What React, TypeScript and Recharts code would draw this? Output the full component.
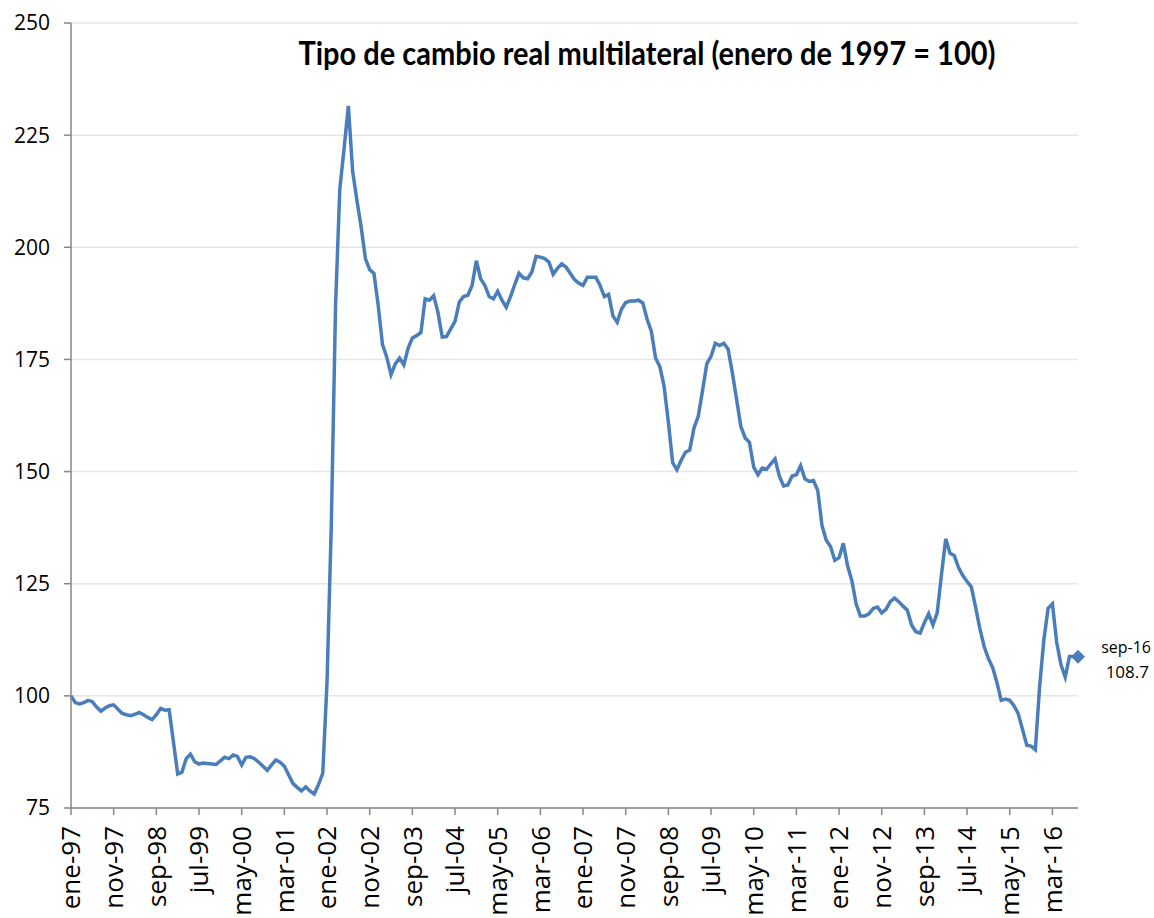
import { LineChart, Line, XAxis, YAxis, CartesianGrid } from "recharts";

// Tipo de cambio real multilateral, mensual, ene-97 .. sep-16 (enero 1997 = 100)
const months = ["ene", "feb", "mar", "abr", "may", "jun", "jul", "ago", "sep", "oct", "nov", "dic"];
const years = ["97", "98", "99", "00", "01", "02", "03", "04", "05", "06", "07", "08", "09", "10", "11", "12", "13", "14", "15", "16"];

const v1997 = [100, 98.5, 98.2, 98.5, 99, 98.7, 97.5, 96.6, 97.3, 97.8, 98, 97];
const v1998 = [96.1, 95.8, 95.6, 95.9, 96.3, 95.8, 95.2, 94.7, 95.8, 97.2, 96.8, 96.9];
const v1999 = [89.8, 82.6, 83, 86, 87, 85.3, 84.8, 85, 84.9, 84.8, 84.7, 85.5];
const v2000 = [86.3, 86, 86.8, 86.5, 84.6, 86.3, 86.4, 86, 85.2, 84.3, 83.4, 84.6];
const v2001 = [85.7, 85.2, 84.3, 82.4, 80.5, 79.6, 78.8, 79.7, 78.8, 78.1, 80.2, 82.7];
const v2002 = [103, 138, 187, 213, 222, 231.5, 217, 210.5, 204.5, 197.5, 195, 194.2];
const v2003 = [187, 178.3, 175.5, 171.6, 174, 175.3, 173.8, 177.5, 179.8, 180.3, 181, 188.5];
const v2004 = [188.2, 189.2, 185.5, 180, 180.1, 181.8, 183.5, 187.8, 189, 189.3, 191.5, 197];
const v2005 = [193, 191.5, 189, 188.5, 190.2, 188.2, 186.6, 189, 191.7, 194.2, 193.2, 193];
const v2006 = [194.5, 198, 197.8, 197.5, 196.7, 194, 195.3, 196.3, 195.6, 194.2, 192.8, 192];
const v2007 = [191.5, 193.3, 193.3, 193.3, 191.5, 189, 189.5, 184.7, 183.3, 186.2, 187.7, 188];
const v2008 = [188, 188.2, 187.6, 184, 181.3, 175.3, 173.4, 169, 161, 152, 150.4, 152.5];
const v2009 = [154.3, 154.8, 159.7, 162.3, 168, 174, 175.7, 178.6, 178.1, 178.6, 177.3, 172];
const v2010 = [166, 160, 157.5, 156.5, 151, 149.3, 150.8, 150.5, 151.7, 152.8, 149, 146.8];
const v2011 = [147, 149, 149.3, 151.3, 148.4, 147.8, 148, 145.8, 138, 134.7, 133.3, 130.2];
const v2012 = [130.8, 134, 129, 125.7, 120.5, 117.8, 117.8, 118.3, 119.5, 119.8, 118.5, 119.3];
const v2013 = [121, 121.8, 121, 120, 119.1, 115.8, 114.3, 114, 116.3, 118.3, 115.8, 118.5];
const v2014 = [127, 135, 131.8, 131.3, 128.6, 126.8, 125.5, 124.3, 119.8, 115, 111, 108.3];
const v2015 = [106.3, 103, 99, 99.3, 99, 97.8, 96, 92.5, 89, 88.8, 88, 102];
const v2016 = [112.5, 119.5, 120.5, 112, 107, 104.2, 108.8, 108.8, 108.7];

const yearly = [v1997, v1998, v1999, v2000, v2001, v2002, v2003, v2004, v2005, v2006, v2007, v2008, v2009, v2010, v2011, v2012, v2013, v2014, v2015, v2016];

const yTicks = [75, 100, 125, 150, 175, 200, 225, 250];
const title = "Tipo de cambio real multilateral (enero de 1997 = 100)";
const lastLabel = "sep-16";
const lastValue = "108.7";

const data = yearly.flatMap((vals, yi) =>
  vals.map((v, mi) => ({ t: `${months[mi]}-${years[yi]}`, tcr: v }))
);

const BLUE = "#4A7EBB";
const AXIS = "#868686";
const FONT = "'Open Sans', sans-serif";

function MonthTick({ x, y, payload }: any) {
  return (
    <g transform={`translate(${x},${y + 9})`}>
      <text transform="rotate(-90)" textAnchor="end" dy="0.36em" fontSize={26} fill="#000" fontFamily={FONT}>
        {payload.value}
      </text>
    </g>
  );
}

// only the last month gets a marker and its label
const renderDot = (props: any) => {
  const { cx, cy, index } = props;
  if (index !== data.length - 1) return <g key={`d-${index}`} />;
  return (
    <g key={`d-${index}`}>
      <polygon points={`${cx},${cy - 7} ${cx + 7},${cy} ${cx},${cy + 7} ${cx - 7},${cy}`} fill={BLUE} />
      <text x={cx + 73} y={cy - 10} textAnchor="end" dominantBaseline="central" fontSize={16} fill="#000" fontFamily={FONT}>
        {lastLabel}
      </text>
      <text x={cx + 71} y={cy + 15} textAnchor="end" dominantBaseline="central" fontSize={17} fill="#000" fontFamily={FONT}>
        {lastValue}
      </text>
    </g>
  );
};

export default function App() {
  return (
    <div style={{ position: "absolute", left: 0, top: 0, width: 1154, height: 918, background: "#fff" }}>
      <LineChart width={1154} height={918} data={data} margin={{ top: 23, right: 76, left: 0, bottom: 0 }}>
        <CartesianGrid vertical={false} stroke="#e6e6e6" strokeWidth={1.5} />
        <XAxis
          dataKey="t"
          interval={9}
          height={110}
          tick={<MonthTick />}
          tickSize={7}
          tickMargin={2}
          axisLine={{ stroke: AXIS, strokeWidth: 1.5 }}
          tickLine={{ stroke: AXIS, strokeWidth: 1.5 }}
        />
        <YAxis
          domain={[75, 250]}
          ticks={yTicks}
          width={71}
          tickSize={7}
          tickMargin={14}
          tick={{ fontSize: 21, fill: "#000", fontFamily: FONT }}
          axisLine={{ stroke: AXIS, strokeWidth: 1.5 }}
          tickLine={{ stroke: AXIS, strokeWidth: 1.5 }}
        />
        <Line type="linear" dataKey="tcr" stroke={BLUE} strokeWidth={3.5} dot={renderDot} activeDot={false} isAnimationActive={false} />
      </LineChart>
      <svg width={1154} height={90} style={{ position: "absolute", left: 0, top: 0, pointerEvents: "none" }}>
        <text
          x={647}
          y={65}
          textAnchor="middle"
          fontSize={33}
          fontWeight={700}
          fontFamily="Lato, sans-serif"
          textLength={697}
          lengthAdjust="spacingAndGlyphs"
          fill="#000"
        >
          {title}
        </text>
      </svg>
    </div>
  );
}
